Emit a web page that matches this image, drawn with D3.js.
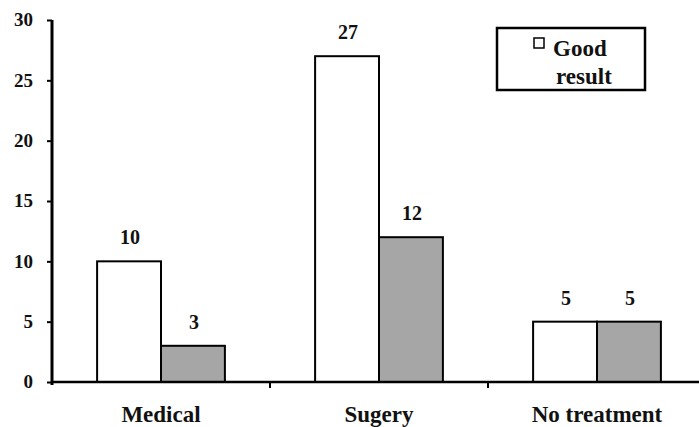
<!DOCTYPE html>
<html><head><meta charset="utf-8">
<script src="https://cdn.jsdelivr.net/npm/d3@7"></script>
</head><body style="margin:0;background:#fff"><svg id="c" width="699" height="427" style="display:block"></svg>
<script>
const categories = ["Medical", "Sugery", "No treatment"];
const seriesNames = ["Good result", "Other"];
const goodResult = [10, 27, 5];
const otherResult = [3, 12, 5];
const yTicks = [0, 5, 10, 15, 20, 25, 30];

const FONT = "Times New Roman, Liberation Serif, Tinos, serif";
const svg = d3.select("#c").attr("font-family", FONT).style("font-family", FONT);
const x0 = 52, x1 = 706, yBottom = 382, yTop = 20;
const x = d3.scaleBand().domain(categories).range([x0, x1]).paddingInner(0).paddingOuter(0);
const inner = d3.scaleBand().domain(seriesNames).range([0, x.bandwidth()]).paddingOuter(0.706).paddingInner(0);
const y = d3.scaleLinear().domain([0, 30]).range([yBottom, yTop]);
const colors = {"Good result": "#ffffff", "Other": "#a6a6a6"};

function serif(sel, size) {
  sel.attr("font-family", FONT).style("font-family", FONT)
     .attr("font-weight", "bold").attr("font-size", size).style("font-size", size + "px");
  return sel;
}

const data = categories.map((c, i) => ({cat: c, vals: [{s: seriesNames[0], v: goodResult[i]}, {s: seriesNames[1], v: otherResult[i]}]}));

const g = svg.selectAll("g.grp").data(data).enter().append("g").attr("transform", d => `translate(${x(d.cat)},0)`);
g.selectAll("rect").data(d => d.vals).enter().append("rect")
  .attr("x", d => inner(d.s)).attr("width", inner.bandwidth())
  .attr("y", d => y(d.v)).attr("height", d => y(0) - y(d.v))
  .attr("fill", d => colors[d.s]).attr("stroke", "#000").attr("stroke-width", 2);
serif(g.selectAll("text.val").data(d => d.vals).enter().append("text")
  .attr("x", d => inner(d.s) + inner.bandwidth() / 2 + 1).attr("y", d => y(d.v) - 17)
  .attr("text-anchor", "middle").attr("fill", "#111").text(d => d.v), 20);

// y axis
const yAxis = svg.append("g").attr("transform", `translate(${x0},0)`)
  .call(d3.axisLeft(y).tickValues(yTicks).tickSize(5).tickPadding(14));
yAxis.attr("font-family", FONT);
yAxis.select(".domain").attr("stroke-width", 3).attr("d", `M0,${yTop}V${yBottom + 3}`);
yAxis.selectAll(".tick line").attr("stroke-width", 2);
serif(yAxis.selectAll(".tick text").attr("dy", "0.3em").attr("fill", "#111"), 19);

// x axis
const xAxis = svg.append("g").attr("transform", `translate(0,${yBottom})`)
  .call(d3.axisBottom(x).tickSize(0).tickPadding(24));
xAxis.attr("font-family", FONT);
xAxis.select(".domain").attr("stroke-width", 2.5).attr("d", `M${x0},0H${x1}`);
serif(xAxis.selectAll(".tick text").attr("fill", "#111"), 23);
// boundary ticks
xAxis.selectAll("line.b").data(categories.slice(1)).enter().append("line").attr("class", "b")
  .attr("x1", d => x(d)).attr("x2", d => x(d)).attr("y1", 0).attr("y2", 6).attr("stroke", "#000").attr("stroke-width", 2);

// legend
const lg = svg.append("g");
lg.append("rect").attr("x", 497).attr("y", 28).attr("width", 148).attr("height", 62).attr("fill", "#fff").attr("stroke", "#000").attr("stroke-width", 2.5);
lg.append("rect").attr("x", 534).attr("y", 38).attr("width", 10).attr("height", 10).attr("fill", colors[seriesNames[0]]).attr("stroke", "#000").attr("stroke-width", 1.5);
const lt = serif(lg.append("text").attr("y", 56).attr("fill", "#111"), 23);
lt.append("tspan").attr("x", 553).text("Good");
lt.append("tspan").attr("x", 556).attr("dy", 28).text("result");
</script></body></html>
